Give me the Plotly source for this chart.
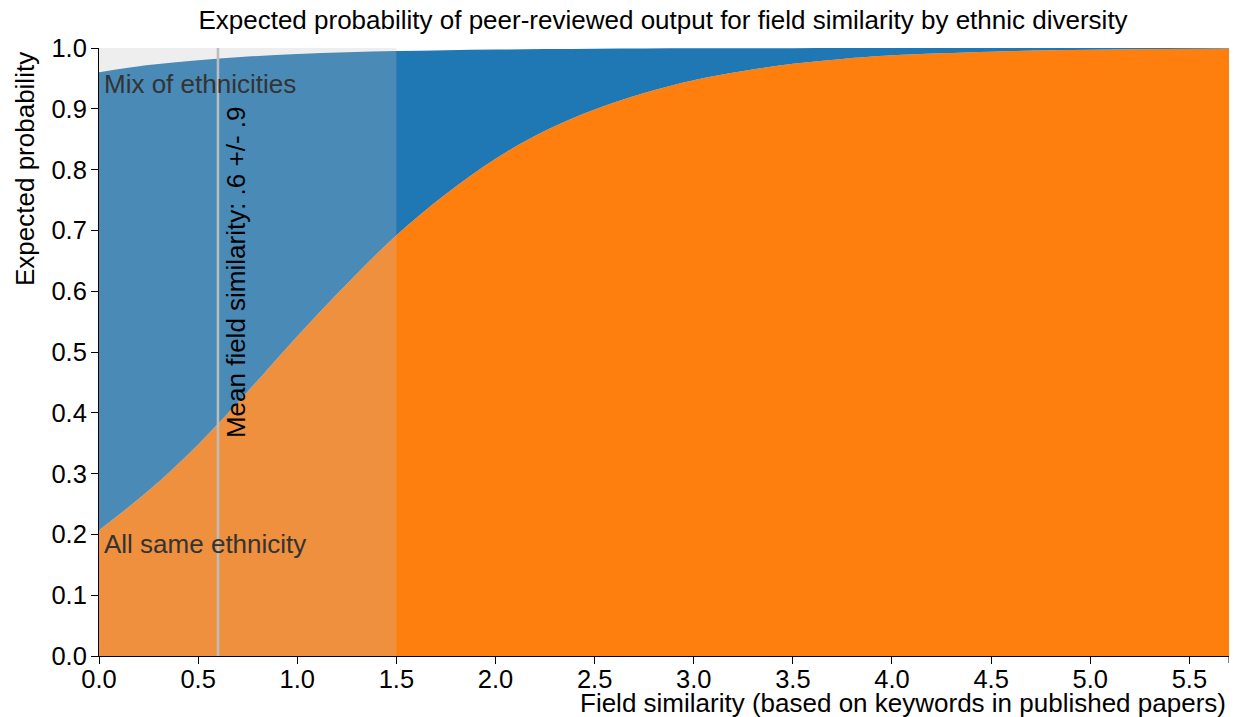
import plotly.graph_objects as go

# Field similarity sample positions
field_similarity = [0.0, 0.25, 0.5, 0.75, 1.0, 1.25, 1.5, 1.75, 2.0, 2.25, 2.5, 2.75,
                    3.0, 3.25, 3.5, 3.75, 4.0, 4.5, 5.0, 5.7]
# Expected probability, all same ethnicity (orange)
same_ethnicity = [0.207, 0.272, 0.348, 0.435, 0.526, 0.612, 0.692, 0.760, 0.818, 0.864,
                  0.899, 0.926, 0.947, 0.962, 0.974, 0.982, 0.988, 0.994, 0.997, 0.999]
# Expected probability, mix of ethnicities (blue)
mix_ethnicities = [0.960, 0.972, 0.980, 0.986, 0.990, 0.993, 0.995, 0.9965, 0.9975, 0.9982,
                   0.9988, 0.9991, 0.9994, 0.9996, 0.9997, 0.9998, 0.9999, 0.99995, 1.0, 1.0]

mean_similarity = 0.6
sd_similarity = 0.9
x_max = 5.7

x_ticks = [0.0, 0.5, 1.0, 1.5, 2.0, 2.5, 3.0, 3.5, 4.0, 4.5, 5.0, 5.5]
y_ticks = [0.0, 0.1, 0.2, 0.3, 0.4, 0.5, 0.6, 0.7, 0.8, 0.9, 1.0]

FONT = "Liberation Sans, Arial, Helvetica, sans-serif"
PLOT_W, PLOT_H = 1130, 608

fig = go.Figure()
fig.add_trace(go.Scatter(x=field_similarity, y=same_ethnicity, mode="lines",
                         line=dict(width=0, shape="spline", color="#ff7f0e"),
                         fill="tozeroy", fillcolor="#ff7f0e", hoverinfo="skip",
                         showlegend=False))
fig.add_trace(go.Scatter(x=field_similarity, y=mix_ethnicities, mode="lines",
                         line=dict(width=0, shape="spline", color="#1f77b4"),
                         fill="tonexty", fillcolor="#1f77b4", hoverinfo="skip",
                         showlegend=False))

# +/- 1 sd band (clipped to axis)
fig.add_shape(type="rect", xref="x", yref="y",
              x0=max(0, mean_similarity - sd_similarity), x1=mean_similarity + sd_similarity,
              y0=0, y1=1, fillcolor="rgba(194,194,194,0.27)", line=dict(width=0),
              layer="above")
fig.add_shape(type="line", xref="x", yref="y", x0=mean_similarity, x1=mean_similarity,
              y0=0, y1=1, line=dict(color="#bdbdbd", width=2.5), layer="above")
# end-of-domain tick on x axis
fig.add_shape(type="line", xref="x", yref="paper", x0=x_max, x1=x_max, y0=0, y1=-7 / PLOT_H,
              line=dict(color="black", width=1))

fig.add_annotation(x=0, y=0.941, xref="x", yref="y", text="Mix of ethnicities",
                   showarrow=False, xanchor="left", yanchor="middle", xshift=3,
                   font=dict(family=FONT, size=26, color="#333333"))
fig.add_annotation(x=0, y=0.184, xref="x", yref="y", text="All same ethnicity",
                   showarrow=False, xanchor="left", yanchor="middle", xshift=3,
                   font=dict(family=FONT, size=26, color="#333333"))
fig.add_annotation(x=mean_similarity, y=0.355, xref="x", yref="y",
                   text="Mean field similarity: .6 +/- .9", textangle=-90,
                   showarrow=False, xanchor="center", yanchor="bottom", xshift=18,
                   font=dict(family=FONT, size=26, color="black"))

fig.add_annotation(x=1, y=0, xref="paper", yref="paper",
                   text="Field similarity (based on keywords in published papers)",
                   showarrow=False, xanchor="right", yanchor="middle", yshift=-47, xshift=-1,
                   font=dict(family=FONT, size=26, color="black"))
fig.add_annotation(x=-74 / PLOT_W, y=1, xref="paper", yref="paper",
                   text="Expected probability", textangle=-90,
                   showarrow=False, xanchor="center", yanchor="top", yshift=-2,
                   font=dict(family=FONT, size=26, color="black"))

fig.update_layout(
    width=1237, height=717,
    margin=dict(l=99, r=8, t=48, b=61),
    paper_bgcolor="white", plot_bgcolor="white",
    title=dict(text="Expected probability of peer-reviewed output for field similarity by ethnic diversity",
               x=663 / 1237, xanchor="center", y=1 - 20 / 717, yanchor="middle",
               font=dict(family=FONT, size=26, color="black")),
    font=dict(family=FONT, color="black"),
    xaxis=dict(range=[0, x_max], tickvals=x_ticks, ticktext=[f"{v:.1f}" for v in x_ticks],
               showgrid=False, zeroline=False, showline=True, linecolor="black", linewidth=1,
               ticks="outside", ticklen=7, tickcolor="black", ticklabelstandoff=-7,
               tickfont=dict(family=FONT, size=25.5, color="black")),
    yaxis=dict(range=[0, 1], tickvals=y_ticks, ticktext=[f"{v:.1f}" for v in y_ticks],
               showgrid=False, zeroline=False, showline=True, linecolor="black", linewidth=1,
               ticks="outside", ticklen=7, tickcolor="black", ticklabelstandoff=-1,
               tickfont=dict(family=FONT, size=25.5, color="black")),
)

fig.write_html("out.html", config={"displayModeBar": False},
               post_script="document.body.style.margin='0px';")
